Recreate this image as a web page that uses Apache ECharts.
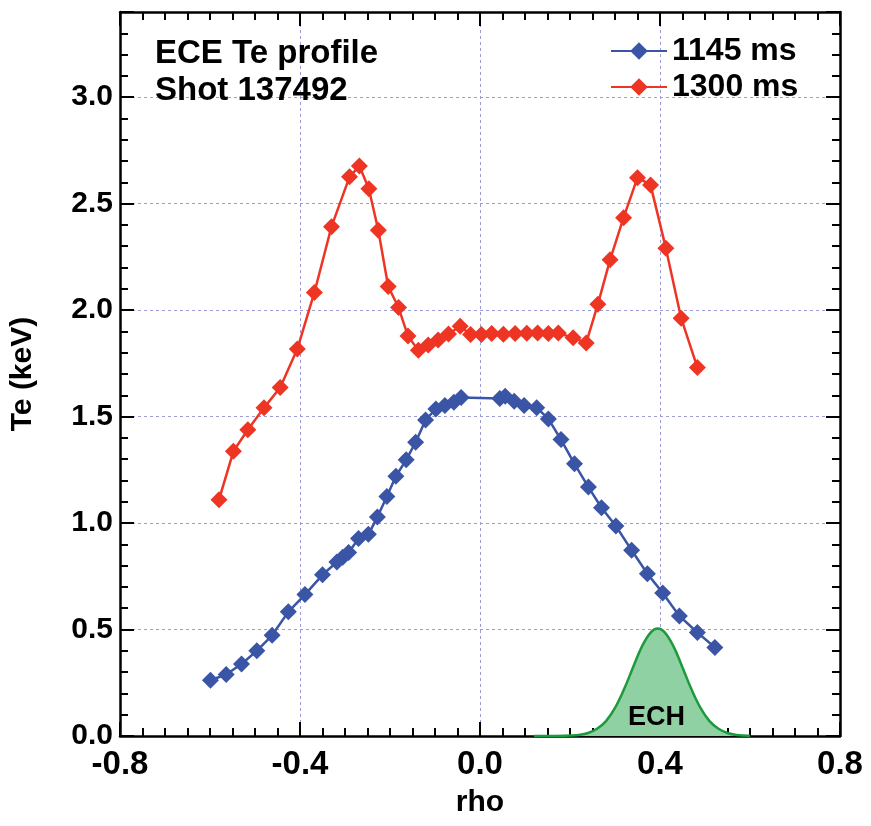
<!DOCTYPE html>
<html><head><meta charset="utf-8">
<script src="https://cdn.jsdelivr.net/npm/echarts@6/dist/echarts.min.js"></script>
<style>html,body{margin:0;padding:0;background:#fff}#c{width:871px;height:826px}</style>
</head><body><div id="c"></div>
<script>
// 1145 ms profile
const rho1145 = [-0.599,-0.564,-0.530,-0.496,-0.462,-0.426,-0.389,-0.350,-0.318,-0.305,-0.292,-0.270,-0.248,-0.228,-0.207,-0.187,-0.164,-0.143,-0.121,-0.098,-0.078,-0.058,-0.042,0.044,0.056,0.076,0.098,0.126,0.152,0.180,0.210,0.241,0.270,0.302,0.337,0.372,0.406,0.443,0.483,0.522];
const te1145 = [0.262,0.289,0.338,0.400,0.473,0.583,0.664,0.757,0.817,0.840,0.862,0.927,0.947,1.028,1.125,1.220,1.297,1.380,1.484,1.536,1.552,1.567,1.590,1.585,1.595,1.572,1.552,1.542,1.489,1.392,1.278,1.169,1.072,0.986,0.872,0.762,0.672,0.564,0.486,0.416];
// 1300 ms profile
const rho1300 = [-0.580,-0.548,-0.516,-0.480,-0.444,-0.406,-0.368,-0.330,-0.290,-0.268,-0.247,-0.226,-0.204,-0.181,-0.160,-0.137,-0.115,-0.093,-0.070,-0.044,-0.021,0.003,0.026,0.052,0.078,0.104,0.128,0.152,0.174,0.207,0.236,0.262,0.289,0.319,0.350,0.379,0.413,0.447,0.483];
const te1300 = [1.110,1.337,1.438,1.541,1.637,1.817,2.083,2.392,2.626,2.677,2.570,2.375,2.111,2.012,1.878,1.811,1.836,1.860,1.888,1.924,1.886,1.886,1.890,1.887,1.890,1.891,1.892,1.890,1.892,1.870,1.846,2.028,2.236,2.434,2.622,2.588,2.291,1.962,1.731];
// ECH deposition profile
const rhoECH = [0.12,0.16,0.20,0.22,0.24,0.26,0.28,0.30,0.32,0.34,0.36,0.38,0.395,0.41,0.43,0.45,0.47,0.49,0.51,0.53,0.55,0.57,0.60];
const ech = [0.000,0.000,0.002,0.005,0.014,0.034,0.070,0.132,0.219,0.322,0.421,0.488,0.505,0.488,0.421,0.322,0.219,0.132,0.070,0.034,0.014,0.005,0.001];
const xTicks = [-0.8,-0.4,0.0,0.4,0.8];
const yTicks = [0.0,0.5,1.0,1.5,2.0,2.5,3.0];
const seriesNames = ['1145 ms','1300 ms'];

const zip = (a,b)=>a.map((v,i)=>[v,b[i]]);
const FONT = '"Liberation Sans", Arial, sans-serif';
const chart = echarts.init(document.getElementById('c'));
const gridLine = {show:true, lineStyle:{color:'#9c9cd4', type:[3,3], width:1}};
const axLine = {show:true, onZero:false, lineStyle:{color:'#000', width:2.5}};
const option = {
  animation:false,
  backgroundColor:'#fff',
  grid:{left:120, right:31, top:12, bottom:90},
  title:{text:'ECE Te profile\nShot 137492', left:150, top:30,
    textStyle:{fontFamily:FONT, fontWeight:'bold', fontSize:33, lineHeight:37, color:'#000'}},
  legend:{data:seriesNames, orient:'vertical', left:605, top:28, itemWidth:56, itemHeight:22, itemGap:0,
    textStyle:{fontFamily:FONT, fontWeight:'bold', fontSize:32, color:'#000', lineHeight:36}},
  xAxis:[{type:'value', min:xTicks[0], max:xTicks[xTicks.length-1], interval:0.4, position:'bottom',
      name:'rho', nameLocation:'middle', nameGap:52,
      nameTextStyle:{fontFamily:FONT, fontWeight:'bold', fontSize:30, color:'#000'},
      axisLine:axLine, axisTick:{show:true, inside:true, length:14, lineStyle:{color:'#000', width:2}},
      minorTick:{show:true, splitNumber:8, length:8, lineStyle:{color:'#000', width:2}},
      axisLabel:{fontFamily:FONT, fontWeight:'bold', fontSize:33, color:'#000', margin:12,
        formatter:v=>v.toFixed(1)},
      splitLine:gridLine},
    {type:'value', min:xTicks[0], max:xTicks[xTicks.length-1], interval:0.4, position:'top',
      axisLine:axLine, axisTick:{show:true, inside:true, length:14, lineStyle:{color:'#000', width:2}},
      minorTick:{show:true, splitNumber:8, length:8, lineStyle:{color:'#000', width:2}},
      axisLabel:{show:false}, splitLine:{show:false}}],
  yAxis:[{type:'value', min:0, max:3.4, interval:0.5, position:'left',
      name:'Te (keV)', nameLocation:'middle', nameGap:82, nameRotate:90,
      nameTextStyle:{fontFamily:FONT, fontWeight:'bold', fontSize:30, color:'#000'},
      axisLine:axLine, axisTick:{show:true, inside:true, length:14, lineStyle:{color:'#000', width:2}},
      minorTick:{show:true, splitNumber:5, length:8, lineStyle:{color:'#000', width:2}},
      axisLabel:{fontFamily:FONT, fontWeight:'bold', fontSize:30, color:'#000', margin:7, showMaxLabel:false,
        formatter:v=>yTicks.some(t=>Math.abs(t-v)<1e-6)?v.toFixed(1):''},
      splitLine:gridLine},
    {type:'value', min:0, max:3.4, interval:0.5, position:'right',
      axisLine:axLine, axisTick:{show:true, inside:true, length:14, lineStyle:{color:'#000', width:2}},
      minorTick:{show:true, splitNumber:5, length:8, lineStyle:{color:'#000', width:2}},
      axisLabel:{show:false}, splitLine:{show:false}}],
  series:[
    {name:'ECH', type:'line', data:zip(rhoECH, ech), smooth:0.4, symbol:'none', z:1,
      lineStyle:{color:'#1d9a3e', width:2.5}, areaStyle:{color:'#8fd1a2', opacity:1},
      markPoint:{symbol:'circle', symbolSize:0, silent:true,
        data:[{coord:[0.392,0.085], value:'ECH'}],
        label:{show:true, formatter:'ECH', position:'inside', fontFamily:FONT, fontWeight:'bold', fontSize:27, color:'#000'}}},
    {name:seriesNames[0], type:'line', data:zip(rho1145, te1145), symbol:'diamond', symbolSize:17, z:3,
      color:'#3a55a5', lineStyle:{color:'#3a55a5', width:2.5}, itemStyle:{color:'#3a55a5'}},
    {name:seriesNames[1], type:'line', data:zip(rho1300, te1300), symbol:'diamond', symbolSize:17, z:3,
      color:'#ee3524', lineStyle:{color:'#ee3524', width:2.5}, itemStyle:{color:'#ee3524'}}
  ]
};
chart.setOption(option);
</script></body></html>
